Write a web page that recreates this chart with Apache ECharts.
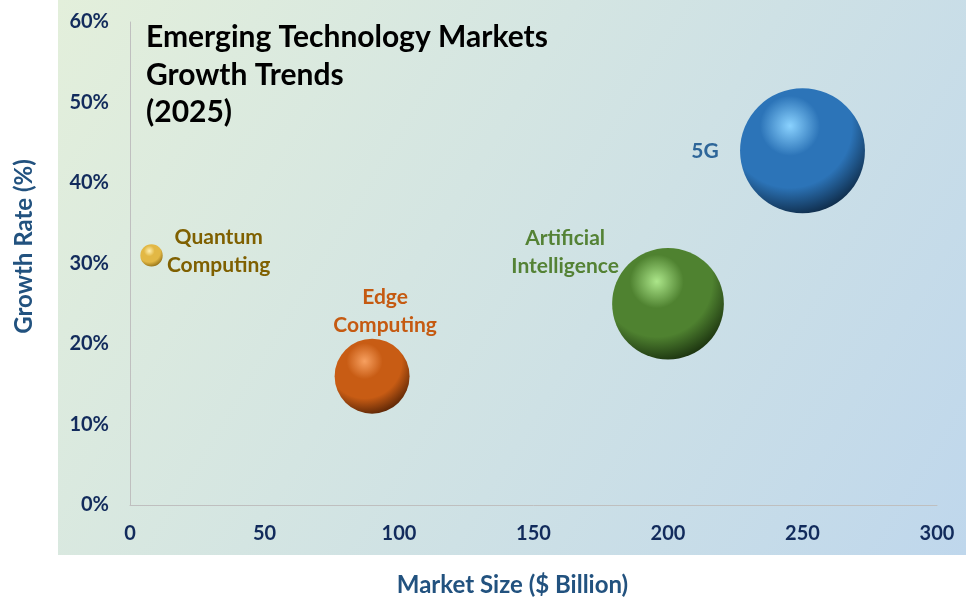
<!DOCTYPE html>
<html><head><meta charset="utf-8">
<script src="https://cdn.jsdelivr.net/npm/echarts@6/dist/echarts.min.js"></script>
<style>html,body{margin:0;padding:0;background:#fff}#c{width:966px;height:613px}</style>
</head><body><div id="c"></div>
<script>
const names = ['Quantum\nComputing', 'Edge\nComputing', 'Artificial\nIntelligence', '5G'];
const marketSize = [8, 90, 200, 250];
const growthRate = [31, 16, 25, 44];
const xTicks = [0, 50, 100, 150, 200, 250, 300];
const yTicks = [0, 10, 20, 30, 40, 50, 60];
const labelColors = ['#7F6000', '#C55A11', '#548235', '#2E6699'];
const sphere = [
  ['#FFF0B0', '#E2B845', '#7A5A08'],
  ['#F7A060', '#C85C14', '#3A1502'],
  ['#ACE68A', '#4F8230', '#0B1A05'],
  ['#8AD2FF', '#2C74B8', '#061628']
];
const labelPos = ['right', 'top', 'left', 'left'];
const labelOffset = [[56, -4], [13, 5], [-47, -52], [-35, 0]];
const FONT = 'Lato, "Open Sans", sans-serif';

const chart = echarts.init(document.getElementById('c'));
const data = marketSize.map((x, i) => ({
  value: [x, growthRate[i], marketSize[i]],
  itemStyle: {
    color: {
      type: 'radial', x: 0.4, y: 0.3, r: 0.8,
      colorStops: [
        {offset: 0, color: sphere[i][0]},
        {offset: 0.3, color: sphere[i][1]},
        {offset: 0.62, color: sphere[i][1]},
        {offset: 1, color: sphere[i][2]}
      ]
    }
  },
  label: {
    show: true,
    formatter: names[i],
    position: labelPos[i],
    distance: i === 1 ? 4 : 0,
    align: 'center',
    verticalAlign: i === 1 ? 'bottom' : 'middle',
    offset: labelOffset[i],
    color: labelColors[i],
    fontFamily: FONT,
    fontWeight: 'bold',
    fontSize: 21,
    lineHeight: 28
  }
}));

chart.setOption({
  animation: false,
  graphic: [{
    type: 'rect', z: -10, silent: true,
    shape: {x: 58, y: 0, width: 908, height: 555},
    style: {
      fill: {
        type: 'linear', x: 0, y: 0, x2: 1, y2: 1,
        colorStops: [{offset: 0, color: '#E3EFDB'}, {offset: 1, color: '#BFD7EC'}]
      }
    }
  }],
  title: {
    text: 'Emerging Technology Markets\nGrowth Trends\n(2025)',
    left: 141, top: 14,
    textStyle: {fontFamily: FONT, fontWeight: 'bold', fontSize: 30, color: '#000', lineHeight: 37.5}
  },
  grid: {left: 130, right: 29, top: 22, bottom: 108},
  xAxis: {
    type: 'value', min: 0, max: 300, interval: 50,
    name: 'Market Size ($ Billion)', nameLocation: 'middle', nameGap: 68,
    nameTextStyle: {fontFamily: FONT, fontWeight: 'bold', fontSize: 24, color: '#22527F', padding: [0, 42, 0, 0]},
    axisLine: {show: true, lineStyle: {color: '#BFBFBF', width: 1}},
    axisTick: {show: false},
    splitLine: {show: false},
    axisLabel: {
      margin: 19, fontFamily: FONT, fontWeight: 'bold', fontSize: 20, color: '#122B5C',
      formatter: v => xTicks.includes(v) ? String(v) : ''
    }
  },
  yAxis: {
    type: 'value', min: 0, max: 60, interval: 10,
    name: 'Growth Rate (%)', nameLocation: 'middle', nameGap: 94,
    nameTextStyle: {fontFamily: FONT, fontWeight: 'bold', fontSize: 24, color: '#22527F', padding: [0, 0, 0, 34]},
    axisLine: {show: true, lineStyle: {color: '#BFBFBF', width: 1}},
    axisTick: {show: false},
    splitLine: {show: false},
    axisLabel: {
      margin: 21, fontFamily: FONT, fontWeight: 'bold', fontSize: 20, color: '#122B5C',
      formatter: v => yTicks.includes(v) ? v + '%' : ''
    }
  },
  series: [{
    type: 'scatter',
    data: data,
    symbolSize: v => 7.9 * Math.sqrt(v[2]),
    itemStyle: {opacity: 1}
  }]
});
</script></body></html>
